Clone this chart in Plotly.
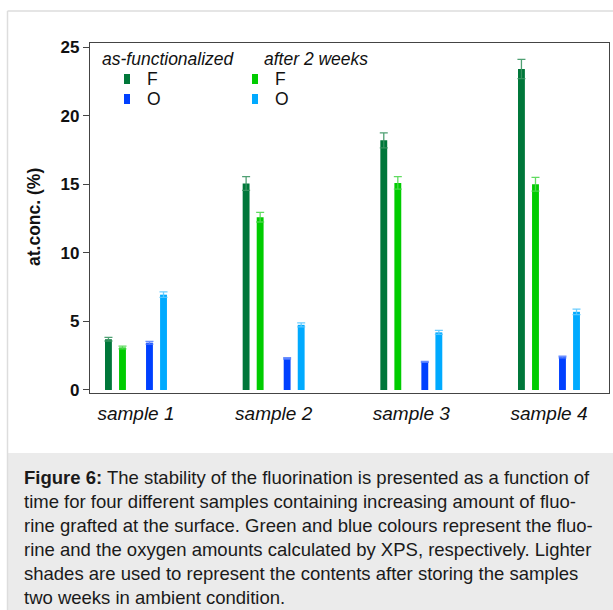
import plotly.graph_objects as go

samples = ["sample 1", "sample 2", "sample 3", "sample 4"]
series_names = ["F as-functionalized", "F after 2 weeks", "O as-functionalized", "O after 2 weeks"]
F_asf = [3.7, 15.05, 18.2, 23.4]
F_asf_err = [0.13, 0.5, 0.55, 0.7]
F_2w = [3.1, 12.6, 15.1, 15.0]
F_2w_err = [0.1, 0.35, 0.45, 0.5]
O_asf = [3.45, 2.3, 2.05, 2.4]
O_asf_err = [0.1, 0.05, 0.04, 0.06]
O_2w = [6.95, 4.75, 4.2, 5.7]
O_2w_err = [0.2, 0.15, 0.15, 0.2]
y_ticks = [0, 5, 10, 15, 20, 25]

colors = ["#00773a", "#00cc00", "#0040ff", "#00aaff"]
err_colors = ["rgba(60,150,100,0.9)", "rgba(80,215,80,0.9)", "rgba(90,130,255,0.9)", "rgba(90,200,255,0.9)"]
offsets = [-0.2, -0.098, 0.098, 0.2]
values = [F_asf, F_2w, O_asf, O_2w]
errors = [F_asf_err, F_2w_err, O_asf_err, O_2w_err]
bar_w = 0.05

W, H = 613, 610
L, R, T, B = 90, 4, 43, 217
PW, PH = W - L - R, H - T - B


def px(x):
    return (x - L) / PW


def py(y):
    return (H - B - y) / PH


fig = go.Figure()
for i in range(4):
    fig.add_trace(go.Bar(
        x=list(range(len(samples))),
        y=values[i],
        name=series_names[i],
        width=bar_w,
        offset=offsets[i] - bar_w / 2,
        marker=dict(color=colors[i], line=dict(width=0)),
        error_y=dict(type="data", array=errors[i], visible=True,
                     color=err_colors[i], thickness=1.3, width=4),
        showlegend=False,
    ))

font_family = "Liberation Sans, Arial, sans-serif"
shapes = []
annotations = []

# outer frame lines and caption background
shapes.append(dict(type="rect", xref="paper", yref="paper",
                   x0=px(7.5), x1=px(613), y0=py(453), y1=py(610),
                   fillcolor="#ebebeb", line=dict(width=0), layer="below"))
shapes.append(dict(type="line", xref="paper", yref="paper",
                   x0=px(7.5), x1=px(7.5), y0=py(11), y1=py(610),
                   line=dict(color="#dddddd", width=1.5)))
shapes.append(dict(type="line", xref="paper", yref="paper",
                   x0=px(7.5), x1=px(613), y0=py(11), y1=py(11),
                   line=dict(color="#dddddd", width=1.5)))

# legend
legend_heads = [("as-functionalized", 100), ("after 2 weeks", 262)]
for text, x0 in legend_heads:
    annotations.append(dict(text="<i>%s</i>" % text, xref="paper", yref="paper", x=px(x0), y=py(59),
                            xanchor="left", yanchor="middle", showarrow=False,
                            font=dict(family=font_family, size=17.5, color="#111111")))
legend_items = [(124, 79, colors[0], "F"), (124, 99, colors[2], "O"),
                (252, 79, colors[1], "F"), (252, 99, colors[3], "O")]
for x0, yc, c, lab in legend_items:
    shapes.append(dict(type="rect", xref="paper", yref="paper",
                       x0=px(x0), x1=px(x0 + 6), y0=py(yc - 5), y1=py(yc + 5),
                       fillcolor=c, line=dict(width=0)))
    annotations.append(dict(text=lab, xref="paper", yref="paper", x=px(x0 + 21), y=py(yc),
                            xanchor="left", yanchor="middle", showarrow=False,
                            font=dict(family=font_family, size=17.5, color="#111111")))

# y axis title
annotations.append(dict(text="<b>at.conc. (%)</b>", xref="paper", yref="paper",
                        x=px(34), y=py(217), textangle=-90, showarrow=False,
                        xanchor="center", yanchor="middle",
                        font=dict(family=font_family, size=17.5, color="#111111")))

# caption
caption = ("<b>Figure 6:</b> The stability of the fluorination is presented as a function of<br>"
           "time for four different samples containing increasing amount of fluo-<br>"
           "rine grafted at the surface. Green and blue colours represent the fluo-<br>"
           "rine and the oxygen amounts calculated by XPS, respectively. Lighter<br>"
           "shades are used to represent the contents after storing the samples<br>"
           "two weeks in ambient condition.")
annotations.append(dict(text=caption, xref="paper", yref="paper", x=px(22), y=py(465),
                        xanchor="left", yanchor="top", align="left", showarrow=False,
                        font=dict(family=font_family, size=18.5, color="#1a1a1a")))

fig.update_layout(
    width=W, height=H,
    margin=dict(l=L, r=R, t=T, b=B, pad=0),
    paper_bgcolor="white", plot_bgcolor="white",
    barmode="overlay",
    shapes=shapes, annotations=annotations,
    font=dict(family=font_family, color="#111111"),
    xaxis=dict(range=[-0.334, 3.436], tickmode="array", tickvals=list(range(len(samples))),
               ticktext=["<i>%s</i>" % s for s in samples], ticks="",
               showline=True, linecolor="#444444", linewidth=1.3, mirror=True,
               showgrid=False, zeroline=False, ticklabelstandoff=3,
               tickfont=dict(family=font_family, size=19, color="#111111")),
    yaxis=dict(range=[-0.22, 25.3], tickmode="array", tickvals=y_ticks,
               ticktext=["<b>%d</b>" % v for v in y_ticks],
               ticks="outside", ticklen=6, tickwidth=1.2, tickcolor="#444444",
               showline=True, linecolor="#444444", linewidth=1.3, mirror=True,
               showgrid=False, zeroline=False,
               tickfont=dict(family=font_family, size=17, color="#111111")),
)

fig.write_html("out.html", config={"displayModeBar": False},
               post_script="document.body.style.margin='0';document.body.style.overflow='hidden';")
